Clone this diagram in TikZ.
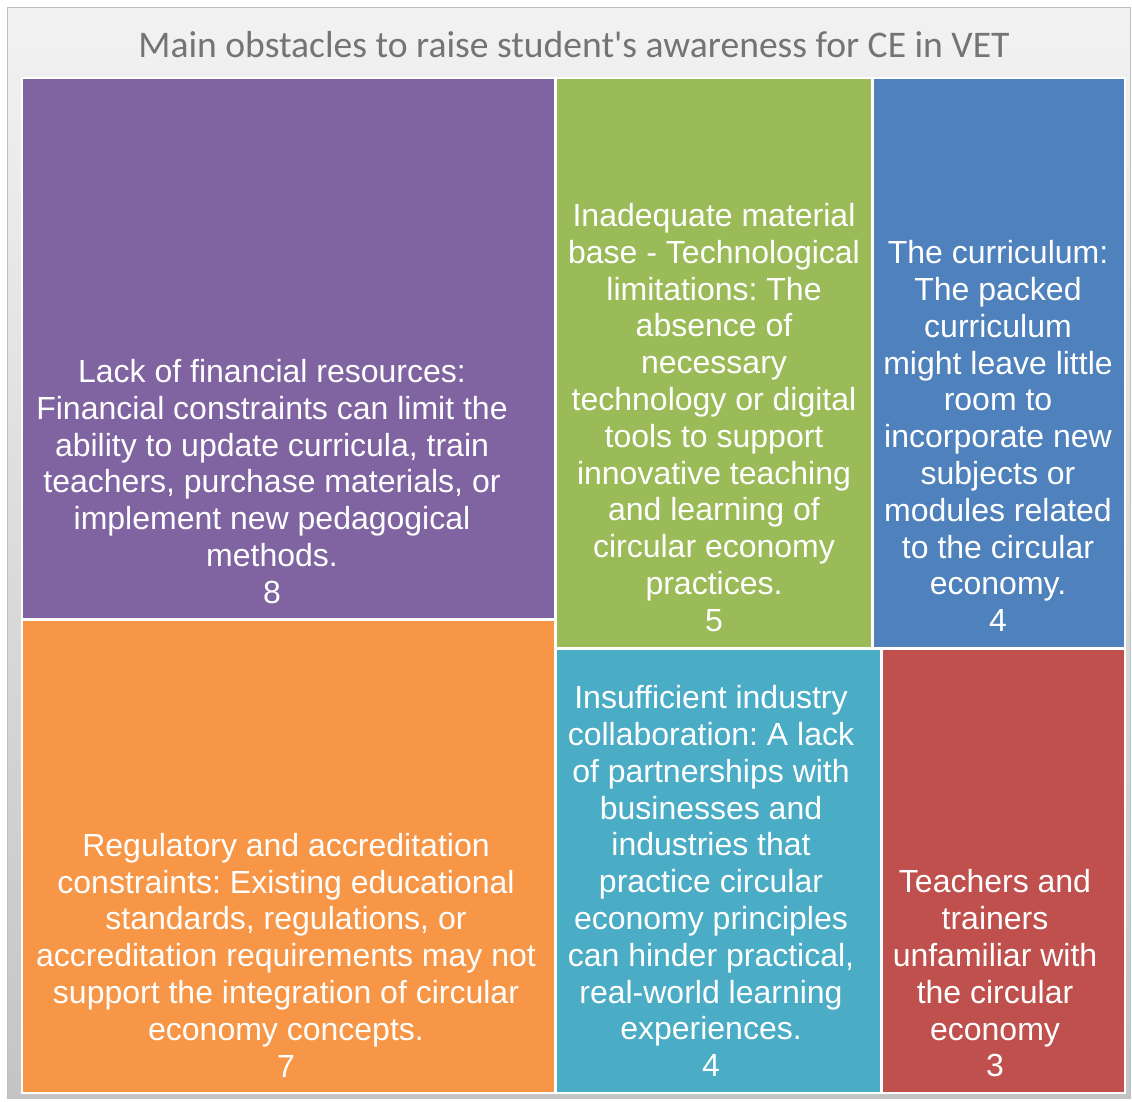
\documentclass[tikz,border=0pt]{standalone}
\usepackage{fontspec}
\setmainfont{Liberation Sans}
\newfontfamily\titlefont{Carlito}[Ligatures=TeXOff]
\frenchspacing
\definecolor{cpurple}{HTML}{8064A2}
\definecolor{cgreen}{HTML}{9BBB59}
\definecolor{cblue}{HTML}{4F81BD}
\definecolor{corange}{HTML}{F79646}
\definecolor{cteal}{HTML}{4BACC6}
\definecolor{cred}{HTML}{C0504D}
\definecolor{ctitle}{HTML}{747474}
\definecolor{cframe}{HTML}{BFBFBF}
\tikzset{
  tile/.style={draw=white, line width=1.5pt},
  tiletext/.style={text=white, align=center, inner sep=0pt,
    font=\frenchspacing\fontsize{32}{36.8}\selectfont},
}
\begin{document}
\begin{tikzpicture}[x=1pt,y=-1pt]
\useasboundingbox (0,0) rectangle (1132,1101);
\fill[white] (0,0) rectangle (1132,1101);
\shade[top color=black!5, bottom color=black!23, draw=cframe, line width=1pt] (7,7) rectangle (1130,1098);
\node[text=ctitle, font=\titlefont\fontsize{37.6}{44}\selectfont, inner sep=0pt] (title) at (574,45) {Main obstacles to raise student's awareness for CE in VET};

\fill[cpurple, tile] (22,78) rectangle (555,619);
\fill[cgreen, tile] (556,78) rectangle (872,648);
\fill[cblue, tile] (873,78) rectangle (1125,648);
\fill[corange, tile] (22,620) rectangle (555,1093);
\fill[cteal, tile] (556,649) rectangle (881,1093);
\fill[cred, tile] (882,649) rectangle (1125,1093);

\node[tiletext] (purple) at (272,481.5) {Lack of financial resources:\\Financial constraints can limit the\\ability to update curricula, train\\teachers, purchase materials, or\\implement new pedagogical\\methods.\\8};
\node[tiletext] (green) at (714,417.5) {Inadequate material\\base - Technological\\limitations: The\\absence of\\necessary\\technology or digital\\tools to support\\innovative teaching\\and learning of\\circular economy\\practices.\\5};
\node[tiletext] (blue) at (998,436) {The curriculum:\\The packed\\curriculum\\might leave little\\room to\\incorporate new\\subjects or\\modules related\\to the circular\\economy.\\4};
\node[tiletext] (orange) at (286,955) {Regulatory and accreditation\\constraints: Existing educational\\standards, regulations, or\\accreditation requirements may not\\support the integration of circular\\economy concepts.\\7};
\node[tiletext] (teal) at (711,881) {Insufficient industry\\collaboration: A lack\\of partnerships with\\businesses and\\industries that\\practice circular\\economy principles\\can hinder practical,\\real-world learning\\experiences.\\4};
\node[tiletext] (red) at (995,973.5) {Teachers and\\trainers\\unfamiliar with\\the circular\\economy\\3};
\end{tikzpicture}
\end{document}
